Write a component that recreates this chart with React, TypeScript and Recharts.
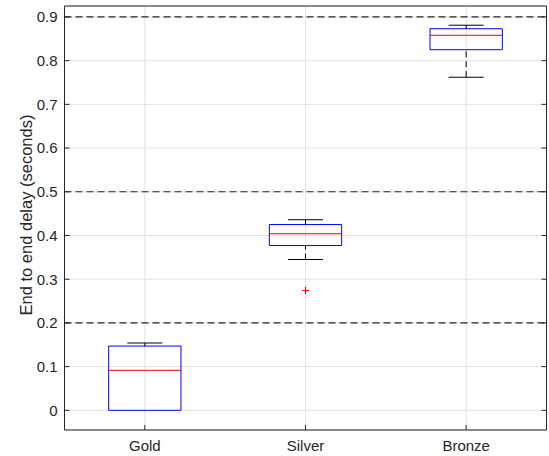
import { ComposedChart, XAxis, YAxis, CartesianGrid, ReferenceArea, ReferenceLine, Scatter } from "recharts";

const categories = ["Gold", "Silver", "Bronze"];
const lowerWhisker = [0, 0.345, 0.762];
const q1 = [0, 0.377, 0.825];
const median = [0.0915, 0.404, 0.858];
const q3 = [0.147, 0.425, 0.873];
const upperWhisker = [0.154, 0.436, 0.881];
const outliers = [{ pos: 2, value: 0.274 }];
const thresholds = [0.2, 0.5, 0.9];
const yTicks = [0, 0.1, 0.2, 0.3, 0.4, 0.5, 0.6, 0.7, 0.8, 0.9];

const Y_DOMAIN: [number, number] = [-0.045, 0.925];
const X_DOMAIN: [number, number] = [0.5, 3.5];
const BOX_HALF = 0.225;
const CAP_HALF = 0.109;
const INK = "#262626";
const FONT = "'Liberation Sans', Arial, Helvetica, sans-serif";

function Plus({ cx, cy }: { cx?: number; cy?: number }) {
  if (cx == null || cy == null) return null;
  return (
    <g stroke="#ff0000" strokeWidth={1}>
      <line x1={cx - 3.5} y1={cy} x2={cx + 3.5} y2={cy} />
      <line x1={cx} y1={cy - 3.5} x2={cx} y2={cy + 3.5} />
    </g>
  );
}

export default function App() {
  const tickStyle = { fill: INK, fontSize: 15, fontFamily: FONT };
  return (
    <div style={{ position: "absolute", left: 0, top: 0, background: "#fff" }}>
      <ComposedChart width={549} height={456} margin={{ top: 5, right: 1.5, bottom: 0, left: 0 }}>
        <CartesianGrid stroke="#e2e2e2" />
        <XAxis
          dataKey="pos"
          type="number"
          domain={X_DOMAIN}
          ticks={[1, 2, 3]}
          allowDataOverflow
          tickFormatter={(v: number) => categories[v - 1]}
          height={26}
          tickSize={-5}
          tickMargin={15}
          stroke={INK}
          tick={tickStyle}
        />
        <XAxis
          xAxisId="top"
          orientation="top"
          type="number"
          domain={X_DOMAIN}
          ticks={[1, 2, 3]}
          allowDataOverflow
          height={1}
          tickSize={-5}
          tickFormatter={() => ""}
          stroke={INK}
        />
        <YAxis
          type="number"
          domain={Y_DOMAIN}
          ticks={yTicks}
          allowDataOverflow
          width={64.5}
          tickSize={-5}
          tickMargin={12}
          stroke={INK}
          tick={tickStyle}
          tickFormatter={(v: number) => String(v)}
          label={{
            value: "End to end delay (seconds)",
            angle: -90,
            position: "center",
            dx: -6.4,
            dy: -3,
            style: { fill: INK, fontSize: 16.5, fontFamily: FONT },
          }}
        />
        <YAxis
          yAxisId="right"
          orientation="right"
          type="number"
          domain={Y_DOMAIN}
          ticks={yTicks}
          allowDataOverflow
          width={1}
          tickSize={-5}
          tickFormatter={() => ""}
          stroke={INK}
        />

        {thresholds.map((t) => (
          <ReferenceLine key={`t${t}`} y={t} stroke={INK} strokeWidth={1.2} strokeDasharray="7 4" />
        ))}

        {categories.map((c, i) => {
          const x = i + 1;
          const marks = [
            <ReferenceLine
              key={`uw${c}`}
              segment={[{ x, y: q3[i] }, { x, y: upperWhisker[i] }]}
              stroke="#000"
              strokeDasharray="6 4"
            />,
            <ReferenceLine
              key={`uc${c}`}
              segment={[{ x: x - CAP_HALF, y: upperWhisker[i] }, { x: x + CAP_HALF, y: upperWhisker[i] }]}
              stroke="#000"
            />,
          ];
          // a whisker of zero length sits hidden under the box edge
          if (lowerWhisker[i] < q1[i]) {
            marks.push(
              <ReferenceLine
                key={`lw${c}`}
                segment={[{ x, y: lowerWhisker[i] }, { x, y: q1[i] }]}
                stroke="#000"
                strokeDasharray="6 4"
              />,
              <ReferenceLine
                key={`lc${c}`}
                segment={[{ x: x - CAP_HALF, y: lowerWhisker[i] }, { x: x + CAP_HALF, y: lowerWhisker[i] }]}
                stroke="#000"
              />
            );
          }
          marks.push(
            <ReferenceArea
              key={`box${c}`}
              x1={x - BOX_HALF}
              x2={x + BOX_HALF}
              y1={q1[i]}
              y2={q3[i]}
              fill="none"
              fillOpacity={0}
              stroke="#0000ff"
              strokeOpacity={1}
            />,
            <ReferenceLine
              key={`med${c}`}
              segment={[{ x: x - BOX_HALF, y: median[i] }, { x: x + BOX_HALF, y: median[i] }]}
              stroke="#ff0000"
            />
          );
          return marks;
        })}

        <Scatter data={outliers} dataKey="value" shape={<Plus />} isAnimationActive={false} />
      </ComposedChart>
    </div>
  );
}
